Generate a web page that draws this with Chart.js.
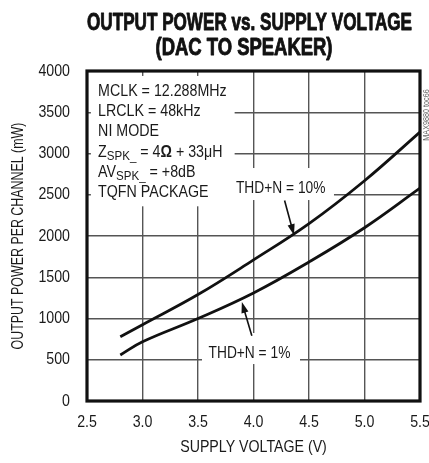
<!DOCTYPE html>
<html>
<head>
<meta charset="utf-8">
<script src="https://cdn.jsdelivr.net/npm/chart.js@4.4.1/dist/chart.umd.min.js"></script>
<style>
  html, body { margin: 0; padding: 0; background: #fff; }
</style>
</head>
<body>
<canvas id="chart" width="429" height="463"></canvas>
<script>
// supply voltage (V) and output power per channel (mW)
const voltage = [2.8, 3.0, 3.5, 4.0, 4.5, 5.0, 5.5];
const thd10 = [780, 925, 1290, 1710, 2150, 2670, 3260];
const thd1 = [558, 718, 1000, 1310, 1685, 2100, 2580];

const xTicks = [2.5, 3.0, 3.5, 4.0, 4.5, 5.0, 5.5];
const yTicks = [0, 500, 1000, 1500, 2000, 2500, 3000, 3500, 4000];

const titleLines = ['OUTPUT POWER vs. SUPPLY VOLTAGE', '(DAC TO SPEAKER)'];
const xTitle = 'SUPPLY VOLTAGE (V)';
const yTitle = 'OUTPUT POWER PER CHANNEL (mW)';
const conditions = [
  ['MCLK = 12.288MHz'],
  ['LRCLK = 48kHz'],
  ['NI MODE'],
  ['Z', 'SPK_', ' = 4', 'Ω', ' + 33μH'],
  ['AV', 'SPK_', ' = +8dB'],
  ['TQFN PACKAGE']
];

const FONT = "'Liberation Sans', Arial, sans-serif";
const INK = '#1a1a1a';
const NARROW = 0.86;

function px(chart, v, p) {
  return [chart.scales.x.getPixelForValue(v), chart.scales.y.getPixelForValue(p)];
}

// Helvetica-narrow look: regular face squeezed horizontally
function narrowText(ctx, text, x, y, align, sx) {
  const w = ctx.measureText(text).width * sx;
  let left = x;
  if (align === 'center') left = x - w / 2;
  else if (align === 'right') left = x - w;
  ctx.save();
  ctx.translate(left, y);
  ctx.scale(sx, 1);
  ctx.textAlign = 'left';
  ctx.fillText(text, 0, 0);
  ctx.restore();
  return w;
}

// white patches that break the grid behind the labels
const patches = [
  { v: [2.535, 3.83], p: [2360, 3940] },
  { v: [3.824, 4.725], p: [2436, 2824] },
  { v: [3.536, 4.419], p: [448, 824] }
];

function arrow(ctx, x0, y0, x1, y1) {
  const a = Math.atan2(y1 - y0, x1 - x0);
  const len = 11, w = 3.6;
  ctx.beginPath();
  ctx.moveTo(x0, y0);
  ctx.lineTo(x1 - Math.cos(a) * len * 0.8, y1 - Math.sin(a) * len * 0.8);
  ctx.lineWidth = 1.6;
  ctx.stroke();
  ctx.beginPath();
  ctx.moveTo(x1, y1);
  ctx.lineTo(x1 - Math.cos(a) * len - Math.sin(a) * w, y1 - Math.sin(a) * len + Math.cos(a) * w);
  ctx.lineTo(x1 - Math.cos(a) * len + Math.sin(a) * w, y1 - Math.sin(a) * len - Math.cos(a) * w);
  ctx.closePath();
  ctx.fill();
}

const decorations = {
  id: 'decorations',
  beforeDatasetsDraw(chart) {
    const ctx = chart.ctx;
    ctx.save();
    ctx.fillStyle = '#fff';
    patches.forEach(b => {
      const [x0, y0] = px(chart, b.v[0], b.p[1]);
      const [x1, y1] = px(chart, b.v[1], b.p[0]);
      ctx.fillRect(x0, y0, x1 - x0, y1 - y0);
    });
    ctx.restore();
  },
  afterDatasetsDraw(chart) {
    const ctx = chart.ctx;
    const area = chart.chartArea;
    const xs = chart.scales.x, ys = chart.scales.y;
    ctx.save();

    // frame
    ctx.strokeStyle = '#111';
    ctx.lineWidth = 3.2;
    ctx.strokeRect(area.left, area.top, area.right - area.left, area.bottom - area.top);

    // tick labels
    ctx.fillStyle = INK;
    ctx.font = `16.5px ${FONT}`;
    ctx.textBaseline = 'middle';
    ys.ticks.forEach(t => {
      narrowText(ctx, String(t.value), area.left - 17, ys.getPixelForValue(t.value), 'right', NARROW);
    });
    xs.ticks.forEach(t => {
      narrowText(ctx, t.value.toFixed(1), xs.getPixelForValue(t.value), area.bottom + 21, 'center', NARROW);
    });

    // axis titles
    ctx.font = `16.5px ${FONT}`;
    narrowText(ctx, xTitle, (area.left + area.right) / 2, area.bottom + 46, 'center', NARROW);
    ctx.save();
    ctx.translate(18.5, (area.top + area.bottom) / 2);
    ctx.rotate(-Math.PI / 2);
    ctx.font = `17px ${FONT}`;
    narrowText(ctx, yTitle, 0, 0, 'center', 0.73);
    ctx.restore();

    // test conditions
    ctx.textBaseline = 'alphabetic';
    let [cx, cy] = px(chart, 2.6, 3700);
    conditions.forEach(parts => {
      let x = cx;
      parts.forEach((t, i) => {
        const sub = parts.length > 1 && i === 1;
        ctx.font = sub ? `13px ${FONT}` : (t === 'Ω' ? `bold 16px ${FONT}` : `16px ${FONT}`);
        x += narrowText(ctx, t, x, cy + (sub ? 3 : 0), 'left', NARROW + 0.03);
      });
      cy += 20.3;
    });

    // curve labels and arrows
    ctx.font = `16px ${FONT}`;
    let [lx, ly] = px(chart, 3.842, 2525);
    narrowText(ctx, 'THD+N = 10%', lx, ly, 'left', NARROW);
    [lx, ly] = px(chart, 3.595, 521);
    narrowText(ctx, 'THD+N = 1%', lx, ly, 'left', NARROW);

    ctx.strokeStyle = '#111';
    ctx.fillStyle = '#111';
    let [a0, b0] = px(chart, 4.28, 2430);
    let [a1, b1] = px(chart, 4.365, 2010);
    arrow(ctx, a0, b0, a1, b1);
    [a0, b0] = px(chart, 3.985, 790);
    [a1, b1] = px(chart, 3.895, 1200);
    arrow(ctx, a0, b0, a1, b1);

    // title, condensed to its printed width
    ctx.textAlign = 'center';
    ctx.textBaseline = 'alphabetic';
    ctx.font = `bold 23px ${FONT}`;
    ctx.lineWidth = 0.9;
    ctx.lineJoin = 'round';
    [[titleLines[0], 249.5, 29.5, 325], [titleLines[1], 244, 55, 177]].forEach(([t, x, y, w]) => {
      const m = ctx.measureText(t).width;
      ctx.save();
      ctx.translate(x, y);
      ctx.scale(w / m, 1);
      ctx.fillText(t, 0, 0);
      ctx.strokeText(t, 0, 0);
      ctx.restore();
    });

    // figure tag
    ctx.save();
    ctx.translate(area.right + 7, area.top + 44);
    ctx.rotate(-Math.PI / 2);
    ctx.font = `8.5px ${FONT}`;
    ctx.fillStyle = '#666';
    ctx.textBaseline = 'middle';
    narrowText(ctx, 'MAX9880 toc66', 0, 0, 'center', 0.85);
    ctx.restore();

    ctx.restore();
  }
};

const gridStyle = { color: '#555', lineWidth: 1.4, drawTicks: false };

new Chart(document.getElementById('chart'), {
  type: 'line',
  data: {
    datasets: [
      {
        label: 'THD+N = 10%',
        data: voltage.map((v, i) => ({ x: v, y: thd10[i] })),
        borderColor: '#111',
        borderWidth: 2.8,
        pointRadius: 0,
        tension: 0.4,
        fill: false
      },
      {
        label: 'THD+N = 1%',
        data: voltage.map((v, i) => ({ x: v, y: thd1[i] })),
        borderColor: '#111',
        borderWidth: 2.8,
        pointRadius: 0,
        tension: 0.4,
        fill: false
      }
    ]
  },
  options: {
    responsive: false,
    animation: false,
    layout: { padding: { top: 71, right: 9, left: 0, bottom: 0 } },
    plugins: {
      legend: { display: false },
      tooltip: { enabled: false }
    },
    scales: {
      x: {
        type: 'linear',
        min: 2.5,
        max: 5.5,
        afterBuildTicks: s => { s.ticks = xTicks.map(v => ({ value: v })); },
        ticks: { display: false },
        grid: gridStyle,
        border: { display: false },
        afterFit: s => { s.height = 62; s.paddingLeft = 0; s.paddingRight = 0; }
      },
      y: {
        min: 0,
        max: 4000,
        afterBuildTicks: s => { s.ticks = yTicks.map(v => ({ value: v })); },
        ticks: { display: false },
        grid: gridStyle,
        border: { display: false },
        afterFit: s => { s.width = 87; s.paddingTop = 0; s.paddingBottom = 0; }
      }
    }
  },
  plugins: [decorations]
});
</script>
</body>
</html>
